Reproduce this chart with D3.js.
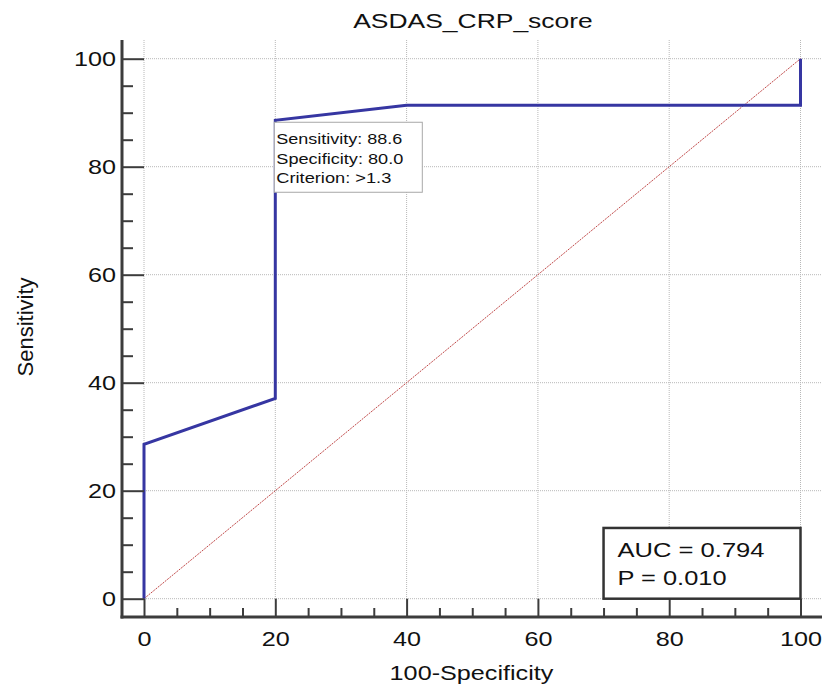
<!DOCTYPE html>
<html lang="en">

<head>
    <meta charset="utf-8">
    <script src="https://d3js.org/d3.v7.min.js"></script>
    <style>
        body { margin: 0; background: #fff; }
        text { font-family: "Liberation Sans", Arial, sans-serif; fill: #111; }
    </style>
</head>

<body>
    <div id="chart"></div>

    <script>
        // ROC curve points (100-Specificity, Sensitivity)
        const fpr = [0, 0, 20, 20, 40, 100, 100];
        const sens = [0, 28.6, 37.1, 88.6, 91.4, 91.4, 100];
        const majorTicks = [0, 20, 40, 60, 80, 100];
        const minorTicks = d3.range(0, 101, 5).filter(d => d % 20 !== 0);
        const cutoffLines = ["Sensitivity: 88.6", "Specificity: 80.0", "Criterion: >1.3"];
        const cutoffPoint = [20, 88.6];
        const statLines = ["AUC = 0.794", "P = 0.010"];

        const width = 822;
        const height = 689;
        const axisX = 122;   // where the y axis line sits
        const axisY = 617;   // where the x axis line sits
        const plotTop = 40;
        const stretch = 1.26; // text in the original is drawn wide

        const x = d3.scaleLinear().domain([0, 100]).range([144, 800.5]);
        const y = d3.scaleLinear().domain([0, 100]).range([598.7, 58.7]);

        const svg = d3.select("#chart").append("svg")
            .attr("width", width)
            .attr("height", height);

        // helper: horizontal text widened around its anchor point
        function wideText(g, px, py, str, size, anchor) {
            return g.append("text")
                .attr("transform", "translate(" + px + "," + py + ") scale(" + stretch + ",1)")
                .attr("text-anchor", anchor || "start")
                .style("font-size", size + "px")
                .text(str);
        }

        // helper: text squeezed/stretched to a given width
        function fitText(g, px, py, str, size, len) {
            return g.append("text")
                .attr("x", px).attr("y", py)
                .attr("textLength", len)
                .attr("lengthAdjust", "spacingAndGlyphs")
                .style("font-size", size + "px")
                .text(str);
        }

        // dotted grid
        const grid = svg.append("g")
            .attr("stroke", "#b8b8b8")
            .attr("stroke-width", 1)
            .attr("stroke-dasharray", "1,1");
        grid.selectAll(".vg").data(majorTicks).enter().append("line")
            .attr("x1", d => x(d)).attr("x2", d => x(d))
            .attr("y1", plotTop).attr("y2", y(0));
        grid.selectAll(".hg").data(majorTicks).enter().append("line")
            .attr("x1", x(0)).attr("x2", width)
            .attr("y1", d => y(d)).attr("y2", d => y(d));

        // diagonal reference line
        svg.append("line")
            .attr("x1", x(0)).attr("y1", y(0))
            .attr("x2", x(100)).attr("y2", y(100))
            .attr("stroke", "#c04848")
            .attr("stroke-width", 1)
            .attr("stroke-dasharray", "2,1");

        // ROC curve
        const line = d3.line()
            .x((d, i) => x(fpr[i]))
            .y(d => y(d));
        svg.append("path")
            .datum(sens)
            .attr("d", line)
            .attr("fill", "none")
            .attr("stroke", "#3636a2")
            .attr("stroke-width", 3)
            .attr("stroke-linejoin", "miter");

        // y axis (ticks point inward)
        const yAxis = svg.append("g")
            .attr("transform", "translate(" + axisX + ",0)")
            .call(d3.axisLeft(y).tickValues(majorTicks).tickSize(-(x(0) - axisX)).tickPadding(6).tickSizeOuter(0));
        svg.append("g")
            .attr("transform", "translate(" + axisX + ",0)")
            .call(d3.axisLeft(y).tickValues(minorTicks).tickSize(-11).tickFormat(""))
            .call(g => g.select(".domain").remove());

        // x axis (ticks point up)
        const xAxis = svg.append("g")
            .attr("transform", "translate(0," + axisY + ")")
            .call(d3.axisBottom(x).tickValues(majorTicks).tickSize(-(axisY - y(0))).tickPadding(15).tickSizeOuter(0));
        svg.append("g")
            .attr("transform", "translate(0," + axisY + ")")
            .call(d3.axisBottom(x).tickValues(minorTicks).tickSize(-9).tickFormat(""))
            .call(g => g.select(".domain").remove());

        [yAxis, xAxis].forEach(a => {
            a.select(".domain").remove();
            a.selectAll("text")
                .style("font-size", "20px")
                .style("font-family", "'Liberation Sans', Arial, sans-serif")
                .attr("fill", "#111")
                .attr("transform", function () {
                    const tx = +this.getAttribute("x") || 0;
                    const ty = +this.getAttribute("y") || 0;
                    return "translate(" + tx + "," + ty + ") scale(" + stretch + ",1)";
                })
                .attr("x", 0)
                .attr("y", 0);
        });
        svg.selectAll(".tick line")
            .attr("stroke", "#3c3c3c")
            .attr("stroke-width", 2);

        // axis lines
        svg.append("line")
            .attr("x1", axisX).attr("x2", axisX)
            .attr("y1", plotTop).attr("y2", axisY + 1.5)
            .attr("stroke", "#3c3c3c").attr("stroke-width", 3);
        svg.append("line")
            .attr("x1", axisX - 1.5).attr("x2", width)
            .attr("y1", axisY).attr("y2", axisY)
            .attr("stroke", "#3c3c3c").attr("stroke-width", 3);

        // title and axis labels
        wideText(svg, 473, 28, "ASDAS_CRP_score", 21, "middle");
        wideText(svg, 471.5, 680, "100-Specificity", 20, "middle");
        svg.append("text")
            .attr("transform", "translate(33,327) rotate(-90)")
            .attr("text-anchor", "middle")
            .style("font-size", "22px")
            .text("Sensitivity");

        // cutoff annotation box
        const bx = x(cutoffPoint[0]) - 1;
        const by = y(cutoffPoint[1]) + 2;
        svg.append("rect")
            .attr("x", bx).attr("y", by)
            .attr("width", 148).attr("height", 70)
            .attr("fill", "#fff")
            .attr("stroke", "#a8a8a8")
            .attr("stroke-width", 1);
        const cutWidths = [126, 127, 115];
        cutoffLines.forEach((d, i) => {
            fitText(svg, bx + 2, by + 22 + i * 19.5, d, 14, cutWidths[i]);
        });

        // AUC box
        svg.append("rect")
            .attr("x", x(70)).attr("y", y(13.1))
            .attr("width", x(100) - x(70)).attr("height", y(0) - y(13.1))
            .attr("fill", "#fff")
            .attr("stroke", "#333")
            .attr("stroke-width", 2.5);
        const statWidths = [147, 109];
        statLines.forEach((d, i) => {
            fitText(svg, x(70) + 14, 557 + i * 28, d, 21, statWidths[i]);
        });
    </script>
</body>

</html>
